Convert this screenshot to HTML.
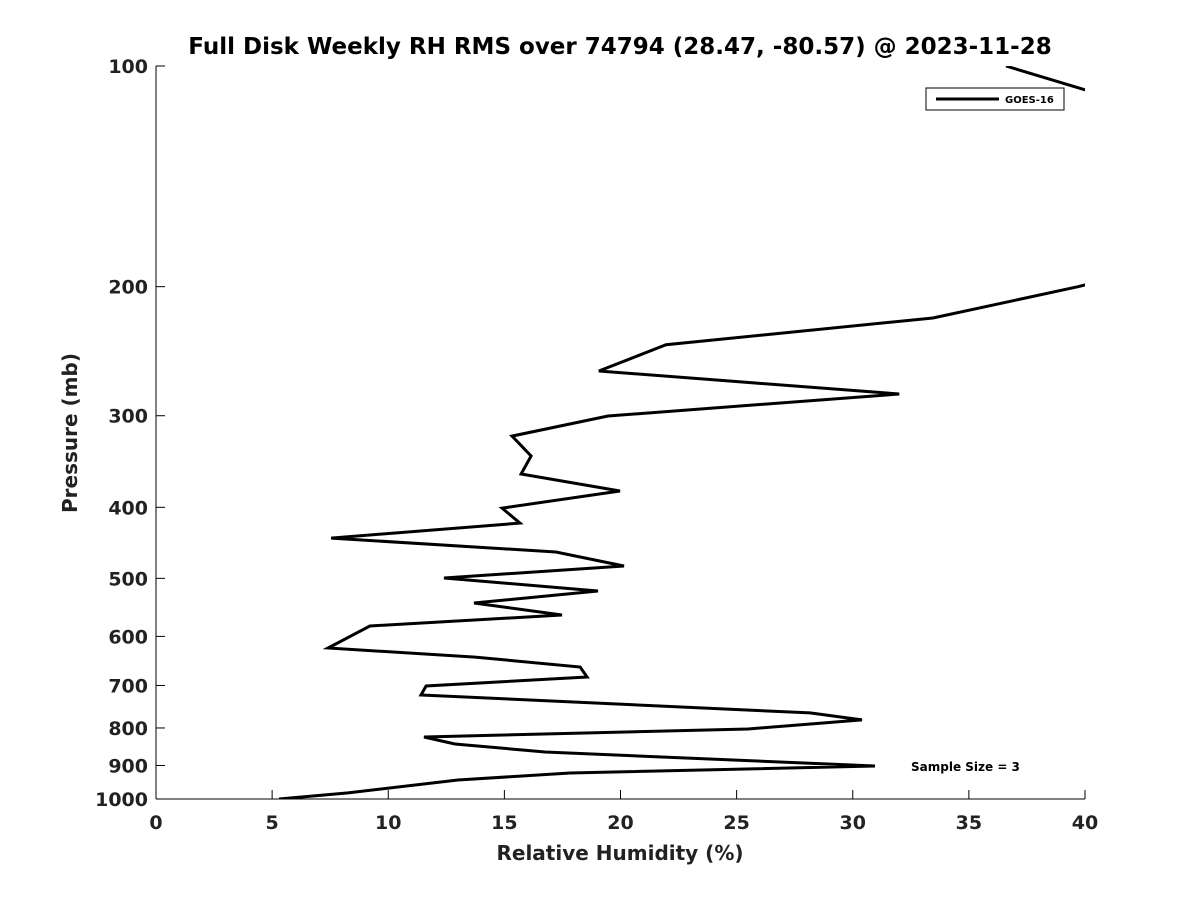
<!DOCTYPE html>
<html><head><meta charset="utf-8"><style>
html,body{margin:0;padding:0;background:#fff;}
svg{display:block;font-family:"DejaVu Sans","Liberation Sans",sans-serif;}
</style></head><body>
<svg id="chart" width="1200" height="900">
<defs><clipPath id="plotclip"><rect x="156" y="66" width="929" height="733"/></clipPath></defs>
<text x="620" y="54" text-anchor="middle" font-size="23" font-weight="bold" fill="#000">Full Disk Weekly RH RMS over 74794 (28.47, -80.57) @ 2023-11-28</text>
<g id="axes"></g>
<g id="series" clip-path="url(#plotclip)"></g>
<text x="620" y="860" text-anchor="middle" font-size="20" font-weight="bold" fill="#222">Relative Humidity (%)</text>
<text transform="translate(77,433) rotate(-90)" text-anchor="middle" font-size="20" font-weight="bold" fill="#222">Pressure (mb)</text>
<g>
<rect x="926" y="88" width="138" height="22" fill="#fff" stroke="#000" stroke-width="1"/>
<line x1="936" y1="99" x2="999" y2="99" stroke="#000" stroke-width="3"/>
<text x="1005" y="103" font-size="10" font-weight="bold" fill="#000">GOES-16</text>
</g>
<text x="911" y="771" font-size="12" font-weight="bold" fill="#000">Sample Size = 3</text>
</svg>
<script>
const pressures = [100, 150, 200, 220.7, 240, 260.7, 280.2, 300.3, 319.8, 340.5, 360.3, 380, 401, 420.4, 440.6, 460.3, 481, 499.5, 520.2, 540.3, 561, 580.7, 622.3, 640.3, 660.6, 681.6, 701.3, 721.3, 763, 780, 802.7, 823, 841.4, 862.7, 901.6, 921.5, 942, 981, 1000];
const rhValues = [36.6, 55, 39.7, 33.45, 21.96, 19.07, 32.0, 19.46, 15.33, 16.15, 15.72, 19.98, 14.9, 15.67, 7.54, 17.22, 20.15, 12.4, 19.03, 13.69, 17.48, 9.21, 7.41, 13.74, 18.26, 18.56, 11.63, 11.41, 28.16, 30.4, 25.49, 11.54, 12.87, 16.75, 30.96, 17.83, 13.0, 8.27, 5.3];
const xTicks = [0, 5, 10, 15, 20, 25, 30, 35, 40];
const yTicks = [100, 200, 300, 400, 500, 600, 700, 800, 900, 1000];

const X0 = 156, X1 = 1085, Y0 = 66, Y1 = 799;
const xScale = v => X0 + (v - 0) / 40 * (X1 - X0);
const yScale = p => Y0 + Math.log10(p / 100) * (Y1 - Y0);
const NS = "http://www.w3.org/2000/svg";
function mk(tag, attrs, parent) {
  const e = document.createElementNS(NS, tag);
  for (const k in attrs) e.setAttribute(k, attrs[k]);
  parent.appendChild(e);
  return e;
}
const axes = document.getElementById('axes');
const series = document.getElementById('series');

let l = mk('line', {x1: X0, y1: Y0, x2: X0, y2: Y1, stroke: '#000', 'stroke-width': 1}, axes);


l = mk('line', {x1: X0, y1: Y1, x2: X1, y2: Y1, stroke: '#000', 'stroke-width': 1}, axes);



xTicks.forEach(t => {
  const x = xScale(t);
  const tk = mk('line', {x1: x, y1: Y1, x2: x, y2: Y1 - 9, stroke: '#000', 'stroke-width': 1}, axes);
  
  
  const tx = mk('text', {x: x, y: Y1 + 30, 'text-anchor': 'middle', 'font-size': 19, 'font-weight': 'bold', fill: '#222'}, axes);
  tx.textContent = t;
  
  
});
yTicks.forEach(t => {
  const y = yScale(t);
  const tk = mk('line', {x1: X0, y1: y, x2: X0 + 9, y2: y, stroke: '#000', 'stroke-width': 1}, axes);
  
  
  const tx = mk('text', {x: X0 - 8, y: y + 7, 'text-anchor': 'end', 'font-size': 19, 'font-weight': 'bold', fill: '#222'}, axes);
  tx.textContent = t;
  
  
});

const pts = pressures.map((p, i) => xScale(rhValues[i]).toFixed(1) + ',' + yScale(p).toFixed(1)).join(' ');
const line = mk('polyline', {points: pts, fill: 'none', stroke: '#000', 'stroke-width': 3, 'stroke-linejoin': 'miter'}, series);


</script>
</body></html>
